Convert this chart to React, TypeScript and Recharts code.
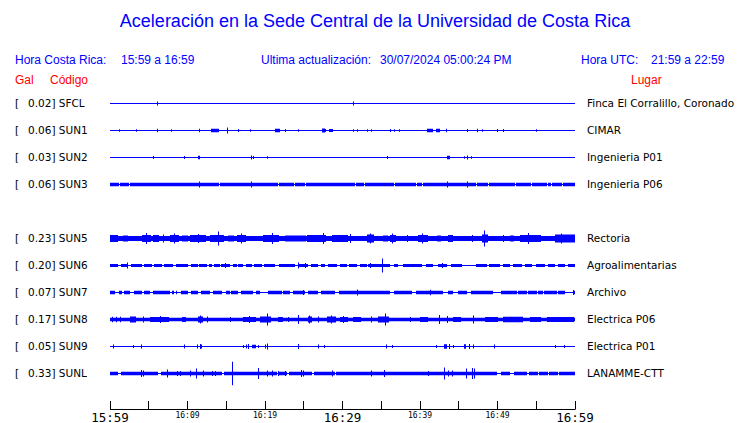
import { ComposedChart, Area, XAxis, YAxis } from 'recharts';

// station rows, top to bottom (slot 4 is left empty, no SUN4 trace)
const stationCodes = ['SFCL', 'SUN1', 'SUN2', 'SUN3', 'SUN5', 'SUN6', 'SUN7', 'SUN8', 'SUN9', 'SUNL'];
const stationSlots = [0, 1, 2, 3, 5, 6, 7, 8, 9, 10];
const peakGal = ['0.02', '0.06', '0.03', '0.06', '0.23', '0.20', '0.07', '0.17', '0.05', '0.33'];
const places = [
  'Finca El Corralillo, Coronado',
  'CIMAR',
  'Ingenieria P01',
  'Ingenieria P06',
  'Rectoria',
  'Agroalimentarias',
  'Archivo',
  'Electrica P06',
  'Electrica P01',
  'LANAMME-CTT',
];

// background half-amplitude of each trace
const baseAmp = [0.5, 0.5, 0.5, 1.8, 2.5, 1.5, 1.7, 1.7, 0.5, 1.7];

// [start minute, end minute, half-amplitude]; lower than base = quiet stretch
const sfclEvents = [[6.1, 6.1, 2], [31.4, 31.4, 2]];
const sun1Events = [
  [1.1, 1.1, 1.2], [3.4, 3.4, 1.2], [6.1, 6.1, 1.7], [7.9, 7.9, 1.2], [11.5, 11.5, 1.7],
  [13.0, 13.4, 1.8], [13.6, 14.0, 1.8], [15.1, 15.1, 3], [16.5, 16.5, 1.5], [18.1, 18.1, 1.2],
  [21.3, 21.8, 1.8], [22.6, 22.6, 1.5], [24.3, 24.3, 1.2], [27.3, 27.6, 2], [27.7, 27.7, 1.5],
  [28.3, 28.7, 1.6], [31.4, 31.4, 1.2], [31.9, 31.9, 1.2], [33.1, 33.1, 1.2], [33.7, 33.7, 1.2],
  [36.1, 36.1, 1.5], [36.6, 36.6, 1.2], [37.3, 37.3, 1.2], [40.9, 41.6, 1.8], [42.1, 42.5, 1.8],
  [43.3, 43.3, 1.8], [46.1, 46.1, 1.5], [47.3, 47.3, 1.8], [48.0, 48.0, 1.2], [50.0, 50.0, 1.5],
  [50.7, 50.7, 1.5], [55.0, 55.0, 1.2],
];
const sun2Events = [
  [5.5, 5.5, 1.5], [9.6, 9.6, 1.5], [11.3, 11.5, 1.8], [18.2, 18.2, 2], [18.4, 18.4, 1.5],
  [20.3, 20.3, 1.2], [35.8, 35.8, 1.5], [43.5, 43.8, 1.8], [45.7, 45.7, 1.2], [46.1, 46.1, 2],
  [46.6, 46.6, 1.2],
];
const sun3Events = [
  [1.2, 1.2, 0.5], [2.4, 2.4, 0.5], [14.1, 14.1, 0.5], [21.7, 21.7, 0.5], [23.8, 23.8, 0.5],
  [25.2, 25.2, 0.5], [31.6, 31.6, 0.5], [32.8, 32.8, 0.5], [36.7, 36.7, 0.5], [39.5, 39.5, 0.5],
  [40.3, 40.3, 0.5], [47.2, 47.2, 0.5], [48.8, 48.8, 0.5], [52.3, 52.3, 0.5], [54.3, 54.3, 0.5],
  [56.4, 56.4, 0.5], [56.9, 56.9, 0.5], [58.3, 58.3, 0.5],
  [11.5, 11.5, 3], [18.2, 18.2, 3], [43.5, 43.5, 3], [46.1, 46.1, 3],
];
const sun5Events = [
  [0, 0.9, 3.5], [1.7, 2.2, 3], [4.1, 5.2, 3.5], [4.7, 4.7, 5.5], [5.5, 6.2, 3.5], [6.8, 6.8, 4],
  [7.7, 8.8, 3.5], [8.2, 8.2, 5], [9.3, 9.9, 3], [10.3, 12.3, 3.5], [11.4, 11.4, 4.5],
  [12.9, 14.6, 3.5], [14.0, 14.0, 7], [15.2, 15.9, 3], [16.4, 17.4, 3.5], [16.9, 16.9, 5],
  [19.7, 21.7, 3.5], [20.9, 20.9, 5.5], [22.6, 25.2, 3], [25.4, 27.7, 3.5], [27.5, 27.5, 5.5],
  [28.6, 30.6, 3.5], [31.0, 31.0, 4.5], [33.2, 33.9, 4], [33.5, 33.5, 5], [35.2, 35.7, 3],
  [36.1, 36.8, 3.5], [36.4, 36.4, 5], [38.3, 38.3, 3.5], [39.7, 40.9, 3.5], [40.2, 40.2, 5],
  [42.2, 42.6, 3], [43.6, 44.1, 3.5], [46.7, 46.7, 3.5], [48.0, 48.6, 4], [48.3, 48.3, 8],
  [50.7, 50.7, 3.5], [51.6, 52.0, 3], [52.9, 55.5, 3.5], [53.9, 53.9, 5.5], [57.4, 60, 4],
  [58.2, 58.2, 5],
];
const sun6Events = [
  [1.0, 1.3, 0.5], [2.3, 2.6, 0.5], [4.1, 4.3, 0.5], [5.4, 5.6, 0.5], [6.7, 6.8, 0.5],
  [8.1, 8.4, 0.5], [10.1, 10.3, 0.5], [11.4, 11.4, 0.5], [12.5, 12.7, 0.5], [13.2, 13.3, 0.5],
  [14.2, 14.2, 0.5], [15.5, 15.7, 0.5], [16.4, 16.4, 0.5], [17.2, 17.4, 0.5], [18.3, 18.5, 0.5],
  [19.6, 19.7, 0.5], [21.3, 21.7, 0.5], [23.9, 24.1, 0.5], [25.5, 25.8, 0.5], [26.8, 27.1, 0.5],
  [27.7, 28.0, 0.5], [29.3, 29.5, 0.5], [30.6, 30.7, 0.5], [31.9, 32.1, 0.5], [33.2, 33.2, 0.5],
  [36.1, 36.5, 0.5], [37.2, 37.7, 0.5], [40.3, 40.6, 0.5], [41.7, 42.2, 0.5], [43.5, 43.9, 0.5],
  [45.4, 47.1, 0.5], [48.6, 48.8, 0.5], [50.3, 50.6, 0.5], [51.6, 51.9, 0.5], [53.2, 53.4, 0.5],
  [54.5, 54.8, 0.5], [56.1, 56.4, 0.5], [57.4, 57.7, 0.5], [58.7, 59.0, 0.5],
  [2.2, 2.2, 3], [14.8, 14.8, 2.5], [24.3, 24.3, 3], [25.2, 25.2, 2.5], [33.5, 33.5, 2.5],
  [35.1, 35.1, 7], [42.8, 42.8, 2.5],
];
const sun7Events = [
  [0.6, 1.0, 0.5], [1.5, 1.7, 0.5], [2.6, 3.0, 0.5], [4.1, 4.3, 0.5], [5.2, 5.4, 0.5],
  [7.7, 7.9, 0.5], [8.3, 8.4, 0.5], [8.7, 9.0, 0.5], [10.1, 10.3, 0.5], [11.4, 11.6, 0.5],
  [12.9, 13.2, 0.5], [14.5, 14.8, 0.5], [15.5, 15.5, 0.5], [16.5, 16.8, 0.5], [18.5, 18.7, 0.5],
  [19.4, 20.3, 0.5], [22.2, 22.2, 0.5], [23.2, 23.5, 0.5], [25.2, 25.4, 0.5], [26.8, 27.1, 0.5],
  [29.0, 29.4, 0.5], [36.1, 36.5, 0.5], [39.0, 39.4, 0.5], [43.0, 43.5, 0.5], [44.3, 44.8, 0.5],
  [46.1, 46.5, 0.5], [49.4, 50.3, 0.5], [52.5, 52.5, 0.5], [53.8, 53.8, 0.5], [55.1, 55.1, 0.5],
  [55.9, 55.9, 0.5], [57.7, 57.7, 0.5], [58.7, 59.6, 0.5],
  [24.9, 24.9, 2.5], [31.9, 31.9, 3], [41.3, 41.3, 2.8], [59.7, 59.7, 2.5],
];
const sun8Events = [
  [0.3, 0.3, 2.8], [0.8, 0.8, 2.8], [1.3, 1.3, 2.8], [2.6, 3.2, 3], [4.2, 4.2, 3], [5.2, 7.5, 2.5],
  [6.4, 6.4, 3.5], [9.3, 9.7, 2.5], [11.4, 11.9, 3], [11.6, 11.6, 4], [12.5, 12.5, 3], [15.5, 15.5, 2.5],
  [17.2, 18.7, 2.5], [17.9, 17.9, 3.5], [19.4, 20.6, 3], [20.3, 20.3, 6], [21.7, 22.2, 2.5],
  [23.0, 23.0, 2.5], [24.2, 24.2, 4.5], [25.5, 26.0, 3], [25.7, 25.7, 4], [26.9, 26.9, 3],
  [28.0, 29.0, 3], [28.5, 28.5, 4], [29.7, 30.6, 2.5], [30.1, 30.1, 3.5], [31.4, 32.3, 2.5],
  [33.7, 33.7, 3], [34.6, 35.9, 3], [35.5, 35.5, 6], [38.7, 38.7, 2.5], [40.0, 40.9, 2.5],
  [42.4, 42.4, 4.5], [43.5, 43.5, 3.5], [44.3, 45.2, 2.5], [46.9, 46.9, 4], [48.4, 49.9, 2.5],
  [50.7, 53.2, 2.8], [54.2, 55.5, 2.5], [56.4, 59.7, 2.5],
];
const sun9Events = [
  [0.4, 0.4, 2], [3.0, 3.0, 1.5], [4.0, 4.0, 2], [9.5, 9.5, 2], [11.2, 11.2, 2], [11.6, 11.6, 2.5],
  [11.8, 11.8, 2], [17.1, 17.1, 1.5], [17.6, 17.6, 2], [17.8, 17.8, 2.5], [18.3, 18.7, 1.8],
  [19.1, 19.1, 1.5], [20.0, 20.0, 2], [20.3, 20.3, 3], [24.2, 24.2, 2.5], [26.9, 26.9, 2],
  [27.6, 27.6, 1.5], [35.6, 35.6, 2], [36.4, 36.4, 1.5], [42.1, 42.1, 1.5], [43.1, 43.3, 2.2],
  [43.7, 43.7, 2.5], [44.3, 44.3, 1.5], [45.7, 45.8, 2.2], [46.3, 46.3, 2.5], [46.8, 46.8, 2],
  [49.5, 49.5, 2], [57.4, 57.4, 1.5], [58.6, 58.6, 1.5],
];
const sunlEvents = [
  [1.0, 1.3, 0.5], [6.2, 6.5, 0.5], [14.5, 14.6, 0.5], [21.5, 21.5, 0.5], [22.9, 23.0, 0.5],
  [26.1, 26.2, 0.5], [29.0, 29.0, 0.5], [49.9, 50.3, 0.5], [51.6, 52.0, 0.5], [53.8, 53.9, 0.5],
  [55.2, 55.2, 0.5], [56.5, 56.5, 0.5], [57.8, 57.8, 0.5],
  [4.0, 4.0, 3.5], [4.3, 4.3, 3], [7.3, 7.3, 4], [8.6, 8.6, 2.5], [9.0, 9.0, 2.5], [10.3, 10.3, 3],
  [11.1, 11.1, 5], [12.0, 12.0, 3], [13.1, 13.1, 2.5], [13.5, 13.5, 2.5], [15.8, 15.8, 11.7],
  [19.1, 19.1, 5.5], [20.2, 20.2, 3], [20.9, 20.9, 3], [21.7, 21.7, 2.5], [22.6, 22.6, 2.5],
  [24.7, 24.7, 3.5], [24.9, 24.9, 3], [28.6, 28.6, 3], [33.7, 33.7, 3], [35.3, 35.3, 3.5],
  [41.0, 41.0, 2.5], [43.1, 43.1, 6], [43.6, 43.6, 3], [44.1, 44.1, 3], [46.0, 46.0, 5],
  [46.7, 46.7, 5.5], [47.0, 47.0, 5],
];
const stationEvents = [
  sfclEvents, sun1Events, sun2Events, sun3Events, sun5Events,
  sun6Events, sun7Events, sun8Events, sun9Events, sunlEvents,
];

// time axis: minutes after 15:59
const tickMinutes = [0, 5, 10, 15, 20, 25, 30, 35, 40, 45, 50, 55, 60];
const tickLabels = ['15:59', '', '16:09', '', '16:19', '', '16:29', '', '16:39', '', '16:49', '', '16:59'];

const W = 740;
const H = 423;
const PLOT_LEFT = 110;
const PLOT_RIGHT = 575;
const PLOT_TOP = 90;
const AXIS_Y = 409.5;
const ROW = 27;
const SAMPLES = PLOT_RIGHT - PLOT_LEFT; // one sample per pixel column
const BLUE = '#0000ff';

function envelope(base: number, events: number[][]) {
  const half = 60 / SAMPLES / 2;
  const out: number[] = [];
  for (let i = 0; i <= SAMPLES; i++) {
    const t = (i * 60) / SAMPLES;
    let peak = 0;
    let quiet = false;
    for (const [a, b, amp] of events) {
      if (t >= a - half && t < b + half) {
        if (amp >= base) peak = Math.max(peak, amp);
        else quiet = true;
      }
    }
    out.push(peak > 0 ? peak : quiet ? 0.5 : base);
  }
  return out;
}

const envelopes = stationCodes.map((_, s) => envelope(baseAmp[s], stationEvents[s]));

const data = Array.from({ length: SAMPLES + 1 }, (_, i) => {
  const row: Record<string, any> = { t: (i * 60) / SAMPLES };
  stationCodes.forEach((code, s) => {
    const center = -(13.5 + ROW * stationSlots[s]);
    const a = envelopes[s][i];
    row[code] = [center - a, center + a];
  });
  return row;
});

function AxisTick(props: any) {
  const { x, y, index } = props;
  const px = Math.floor(x) + 0.5;
  const label = tickLabels[index] ?? '';
  const major = index % 6 === 0;
  return (
    <g>
      <line x1={px} x2={px} y1={y - 8.5} y2={y} stroke="#000" strokeWidth={1} />
      {label && (
        <text
          x={x}
          y={major ? y + 12 : y + 8}
          textAnchor="middle"
          fontFamily="DejaVu Sans Mono"
          fontSize={major ? 12.5 : 8}
          fill="#000"
        >
          {label}
        </text>
      )}
    </g>
  );
}

function Txt({ x, y, children, size = 12, color = BLUE, family = 'Liberation Sans', center = false }: any) {
  return (
    <div
      style={{
        position: 'absolute',
        left: x,
        top: y - size * 0.6,
        lineHeight: `${size * 1.2}px`,
        fontSize: size,
        fontFamily: family,
        color,
        whiteSpace: 'pre',
        transform: center ? 'translateX(-50%)' : undefined,
      }}
    >
      {children}
    </div>
  );
}

export default function App() {
  const plotHeight = AXIS_Y - PLOT_TOP;
  return (
    <div style={{ position: 'absolute', left: 0, top: 0, width: W, height: H, background: '#fff', overflow: 'hidden' }}>
      <ComposedChart
        width={W}
        height={H}
        data={data}
        margin={{ top: PLOT_TOP, right: W - PLOT_RIGHT, bottom: 0, left: PLOT_LEFT }}
      >
        <XAxis
          dataKey="t"
          type="number"
          domain={[0, 60]}
          ticks={tickMinutes}
          interval={0}
          height={H - AXIS_Y}
          tickSize={0}
          tickMargin={0}
          tickLine={false}
          axisLine={{ stroke: '#000' }}
          tick={AxisTick}
          allowDataOverflow
        />
        <YAxis type="number" domain={[-plotHeight, 0]} hide allowDataOverflow />
        {stationCodes.map((code) => (
          <Area
            key={code}
            dataKey={code}
            type="stepAfter"
            stroke="none"
            fill={BLUE}
            fillOpacity={1}
            isAnimationActive={false}
            dot={false}
            activeDot={false}
          />
        ))}
      </ComposedChart>

      <Txt x={375} y={22} size={18} center>
        Aceleración en la Sede Central de la Universidad de Costa Rica
      </Txt>
      <Txt x={15} y={60}>Hora Costa Rica:</Txt>
      <Txt x={121} y={60}>15:59 a 16:59</Txt>
      <Txt x={261} y={60}>Ultima actualización:</Txt>
      <Txt x={380} y={60}>30/07/2024 05:00:24 PM</Txt>
      <Txt x={581} y={60}>Hora UTC:</Txt>
      <Txt x={651} y={60}>21:59 a 22:59</Txt>
      <Txt x={15} y={80} color="#ff0000">Gal</Txt>
      <Txt x={50} y={80} color="#ff0000">Código</Txt>
      <Txt x={631} y={80} color="#ff0000">Lugar</Txt>

      {stationCodes.map((code, s) => {
        const cy = PLOT_TOP + 13.5 + ROW * stationSlots[s];
        return (
          <div key={code}>
            <Txt x={15} y={cy} size={10.5} color="#000" family="DejaVu Sans">[</Txt>
            <Txt x={28} y={cy} size={10.5} color="#000" family="DejaVu Sans">{`${peakGal[s]}] ${code}`}</Txt>
            <Txt x={587} y={cy} size={10.5} color="#000" family="DejaVu Sans">{places[s]}</Txt>
          </div>
        );
      })}
    </div>
  );
}
